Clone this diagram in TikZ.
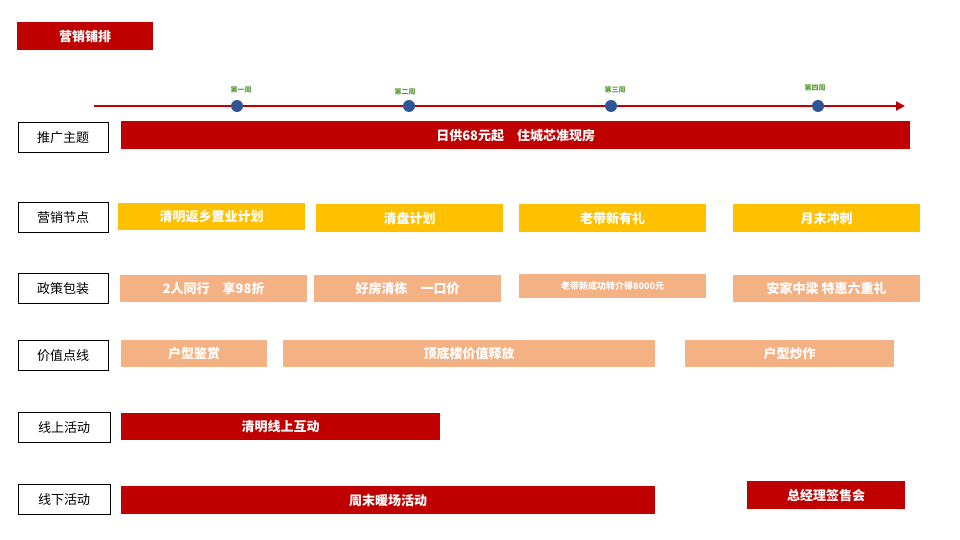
\documentclass[tikz,border=0pt]{standalone}
\usepackage{fontspec}
\newfontfamily\cjk{Noto Sans CJK SC}
\usetikzlibrary{arrows.meta}
\definecolor{dred}{HTML}{C00000}
\definecolor{yel}{HTML}{FFC000}
\definecolor{sal}{HTML}{F4B183}
\definecolor{grn}{HTML}{5B9B3A}
\definecolor{dot}{HTML}{2F5597}
\tikzset{x=1pt,y=-1pt,
 lab/.style={draw=black,fill=white,minimum width=90pt,minimum height=30pt,font=\cjk\fontsize{13}{13}\selectfont,anchor=north west,inner sep=0pt},
 bar/.style={minimum height=28pt,anchor=north west,inner sep=0pt,text=white,font=\cjk\bfseries\fontsize{13}{13}\selectfont},
 rbar/.style={bar,fill=dred},
 ybar/.style={bar,fill=yel},
 sbar/.style={bar,fill=sal},
 wk/.style={text=grn,font=\cjk\bfseries\fontsize{7}{7}\selectfont},
 wdot/.style={circle,fill=dot,minimum size=12pt,inner sep=0pt}}
\begin{document}
\begin{tikzpicture}
\useasboundingbox (0,0) rectangle (960,540);
\node[rbar,minimum width=136pt] (t) at (17,22) {营销铺排};
\coordinate (a0) at (94,106); \coordinate (a1) at (905,106);
\draw[dred,line width=2pt,-{Triangle[length=9pt,width=9pt]}] (a0) -- (a1);
\node[wdot] (d1) at (237,106) {}; \node[wdot] (d2) at (409,106) {};
\node[wdot] (d3) at (611,106) {}; \node[wdot] (d4) at (818,106) {};
\node[wk] (w1) at (241,90) {第一周}; \node[wk] (w2) at (405,92) {第二周};
\node[wk] (w3) at (615,90) {第三周}; \node[wk] (w4) at (815,88) {第四周};
\node[lab] (l1) at (18,122) {推广主题};
\node[lab] (l2) at (18,202) {营销节点};
\node[lab] (l3) at (18,273) {政策包装};
\node[lab] (l4) at (18,340) {价值点线};
\node[lab,minimum width=92pt] (l5) at (18,412) {线上活动};
\node[lab,minimum width=92pt] (l6) at (18,484) {线下活动};
\node[rbar,minimum width=789pt] (b1) at (121,121) {日供68元起\quad 住城芯准现房};
\node[ybar,minimum width=187pt,minimum height=27pt] (y1) at (118,203) {清明返乡置业计划};
\node[ybar,minimum width=187pt] (y2) at (316,204) {清盘计划};
\node[ybar,minimum width=187pt] (y3) at (519,204) {老带新有礼};
\node[ybar,minimum width=187pt] (y4) at (733,204) {月末冲刺};
\node[sbar,minimum width=187pt,minimum height=27pt] (s1) at (120,275) {2人同行\quad 享98折};
\node[sbar,minimum width=187pt,minimum height=27pt] (s2) at (314,275) {好房清栋\quad 一口价};
\node[sbar,minimum width=187pt,minimum height=24pt,font=\cjk\bfseries\fontsize{9}{9}\selectfont] (s3) at (519,274) {老带新成功转介得8000元};
\node[sbar,minimum width=187pt,minimum height=27pt] (s4) at (733,275) {安家中梁 特惠六重礼};
\node[sbar,minimum width=146pt,minimum height=27pt] (v1) at (121,340) {户型鉴赏};
\node[sbar,minimum width=372pt,minimum height=27pt] (v2) at (283,340) {顶底楼价值释放};
\node[sbar,minimum width=209pt,minimum height=27pt] (v3) at (685,340) {户型炒作};
\node[rbar,minimum width=319pt,minimum height=27pt] (o1) at (121,413) {清明线上互动};
\node[rbar,minimum width=534pt] (o2) at (121,486) {周末暖场活动};
\node[rbar,minimum width=158pt] (o3) at (747,481) {总经理签售会};
\end{tikzpicture}
\end{document}
